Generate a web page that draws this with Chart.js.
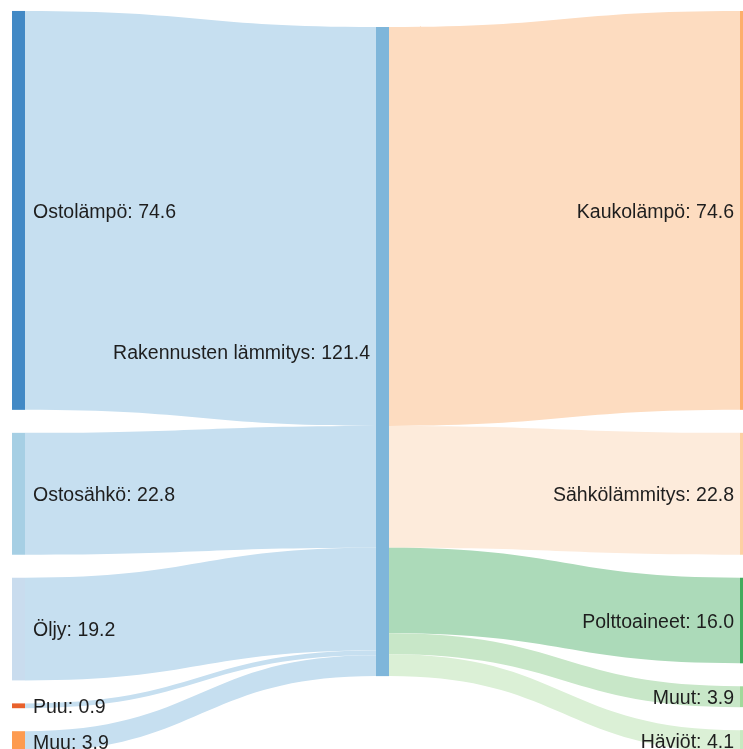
<!DOCTYPE html>
<html>
<head>
<meta charset="utf-8">
<script src="https://cdn.jsdelivr.net/npm/chart.js@4/dist/chart.umd.min.js"></script>
<style>
  html, body { margin: 0; padding: 0; background: #fff; }
  #wrap { width: 743px; height: 749px; position: relative; }
</style>
</head>
<body>
<div id="wrap"><canvas id="sankey"></canvas></div>
<script>
// ---- data ----
const nodeNames   = ['Ostolämpö', 'Ostosähkö', 'Öljy', 'Puu', 'Muu',
                     'Rakennusten lämmitys',
                     'Kaukolämpö', 'Sähkölämmitys', 'Polttoaineet', 'Muut', 'Häviöt'];
const nodeColumns = [0, 0, 0, 0, 0, 1, 2, 2, 2, 2, 2];
const linkSources = [0, 1, 2, 3, 4, 5, 5, 5, 5, 5];
const linkTargets = [5, 5, 5, 5, 5, 6, 7, 8, 9, 10];
const linkValues  = [74.6, 22.8, 19.2, 0.9, 3.9, 74.6, 22.8, 16.0, 3.9, 4.1];

// ---- styles ----
const nodeColors = ['#4289c5', '#a6cfe4', '#c9dcee', '#e8612c', '#fd9b50',
                    '#7fb6da',
                    '#fdae6b', '#fdd0a2', '#41ab5d', '#a1d99b', '#c7e9c0'];
const flowColors = ['#c6dff0', '#c6dff0', '#c6dff0', '#c6dff0', '#c6dff0',
                    '#fddcc0', '#fdebdb', '#acdab9', '#c8e7c8', '#dbf0d6'];

// ---- layout (x in px-like units, y in value units) ----
const COL_X    = [12, 376, 740];
const NODE_W   = 13;
const COL_TOP  = [2.05, 5.05, 2.05];
const NODE_GAP = 4.3;
const Y_MAX    = 140.08;

function nodeValue(i) {
  let inSum = 0, outSum = 0;
  linkValues.forEach((v, l) => {
    if (linkTargets[l] === i) inSum += v;
    if (linkSources[l] === i) outSum += v;
  });
  return Math.max(inSum, outSum);
}

// stack nodes in each column
const nodes = nodeNames.map((name, i) => ({ name, col: nodeColumns[i], value: nodeValue(i) }));
[0, 1, 2].forEach(c => {
  let y = COL_TOP[c];
  nodes.forEach(n => {
    if (n.col !== c) return;
    n.y0 = y; n.y1 = y + n.value; y = n.y1 + NODE_GAP;
    n.outY = n.y0; n.inY = n.y0;
  });
});

const links = linkValues.map((v, l) => {
  const s = nodes[linkSources[l]], t = nodes[linkTargets[l]];
  const link = { v, s, t, sy: s.outY, ty: t.inY, color: flowColors[l] };
  s.outY += v; t.inY += v;
  return link;
});

const sankeyPlugin = {
  id: 'sankeyDraw',
  beforeDatasetsDraw(chart) {
    const { ctx, scales: { x, y } } = chart;
    ctx.save();

    // flows
    links.forEach(lk => {
      const x0 = x.getPixelForValue(COL_X[lk.s.col] + NODE_W);
      const x1 = x.getPixelForValue(COL_X[lk.t.col]);
      const xm = (x0 + x1) / 2;
      const a0 = y.getPixelForValue(lk.sy), a1 = y.getPixelForValue(lk.sy + lk.v);
      const b0 = y.getPixelForValue(lk.ty), b1 = y.getPixelForValue(lk.ty + lk.v);
      ctx.beginPath();
      ctx.moveTo(x0, a0);
      ctx.bezierCurveTo(xm, a0, xm, b0, x1, b0);
      ctx.lineTo(x1, b1);
      ctx.bezierCurveTo(xm, b1, xm, a1, x0, a1);
      ctx.closePath();
      ctx.fillStyle = lk.color;
      ctx.fill();
    });

    // nodes
    nodes.forEach((n, i) => {
      const px0 = x.getPixelForValue(COL_X[n.col]);
      const px1 = x.getPixelForValue(COL_X[n.col] + NODE_W);
      const py0 = y.getPixelForValue(n.y0);
      const py1 = y.getPixelForValue(n.y1);
      ctx.fillStyle = nodeColors[i];
      ctx.fillRect(px0, py0, px1 - px0, py1 - py0);
    });

    // labels
    ctx.font = '19.5px "Liberation Sans", Arial, sans-serif';
    ctx.fillStyle = '#1e1e1e';
    ctx.textBaseline = 'middle';
    nodes.forEach(n => {
      const cy = y.getPixelForValue((n.y0 + n.y1) / 2) + 2;
      const txt = n.name + ': ' + n.value.toFixed(1);
      if (n.col === 0) {
        ctx.textAlign = 'left';
        ctx.fillText(txt, x.getPixelForValue(COL_X[0] + NODE_W) + 8, cy);
      } else {
        ctx.textAlign = 'right';
        ctx.fillText(txt, x.getPixelForValue(COL_X[n.col]) - 6, cy);
      }
    });
    ctx.restore();
  }
};

new Chart(document.getElementById('sankey'), {
  type: 'scatter',
  data: { datasets: [{ data: [] }] },
  options: {
    responsive: true,
    maintainAspectRatio: false,
    animation: false,
    layout: { padding: 0 },
    plugins: { legend: { display: false }, tooltip: { enabled: false } },
    scales: {
      x: { type: 'linear', min: 0, max: 743, display: false },
      y: { type: 'linear', min: 0, max: Y_MAX, reverse: true, display: false }
    }
  },
  plugins: [sankeyPlugin]
});
</script>
</body>
</html>
